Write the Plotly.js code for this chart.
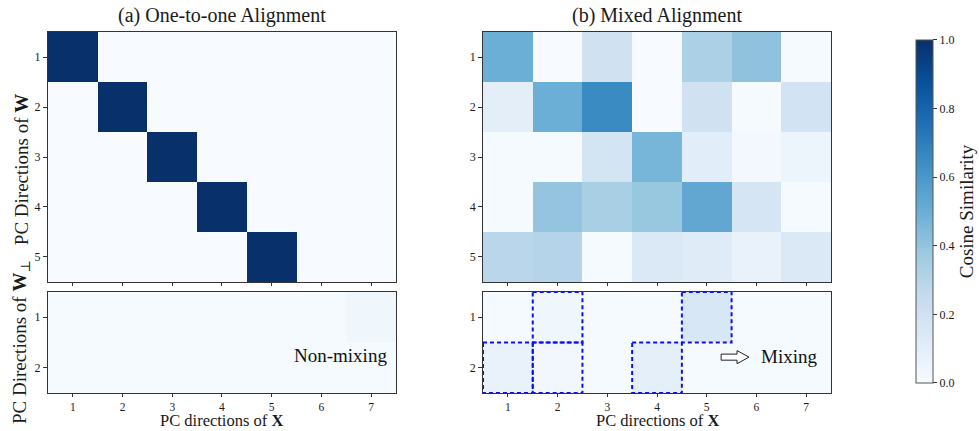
<!DOCTYPE html>
<html><head><meta charset="utf-8">
<script src="https://cdn.plot.ly/plotly-3.0.1.min.js"></script>
<style>html,body{margin:0;padding:0;background:#fff}#plot{width:979px;height:431px}</style>
</head><body><div id="plot"></div>
<script>
// ---- data ----
const xCats = [1, 2, 3, 4, 5, 6, 7];
const wRows = [1, 2, 3, 4, 5];
const wPerpRows = [1, 2];

const oneToOneW = [
  [1, 0, 0, 0, 0, 0, 0],
  [0, 1, 0, 0, 0, 0, 0],
  [0, 0, 1, 0, 0, 0, 0],
  [0, 0, 0, 1, 0, 0, 0],
  [0, 0, 0, 0, 1, 0, 0]
];
const oneToOnePerp = [
  [0.01, 0.01, 0.01, 0.01, 0.01, 0.01, 0.04],
  [0.01, 0.01, 0.01, 0.01, 0.01, 0.01, 0.01]
];
const mixedW = [
  [0.50, 0.00, 0.20, 0.00, 0.33, 0.41, 0.01],
  [0.10, 0.50, 0.65, 0.00, 0.20, 0.01, 0.19],
  [0.01, 0.01, 0.18, 0.47, 0.11, 0.02, 0.05],
  [0.01, 0.40, 0.34, 0.39, 0.53, 0.17, 0.01],
  [0.29, 0.30, 0.01, 0.14, 0.12, 0.07, 0.14]
];
const mixedPerp = [
  [0.01, 0.04, 0.01, 0.01, 0.16, 0.01, 0.01],
  [0.07, 0.03, 0.01, 0.09, 0.01, 0.01, 0.01]
];
// highlighted mixing cells [row, col] in the W-perp panel of (b)
const mixCells = [[1, 2], [1, 5], [2, 1], [2, 2], [2, 4]];

const panelTitles = ["(a) One-to-one Alignment", "(b) Mixed Alignment"];
const cbTicks = [0, 0.2, 0.4, 0.6, 0.8, 1.0];

// ---- styling ----
const blues = [
  [0.0, '#f7fbff'], [0.125, '#deebf7'], [0.25, '#c6dbef'], [0.375, '#9ecae1'],
  [0.5, '#6baed6'], [0.625, '#4292c6'], [0.75, '#2171b5'], [0.875, '#08519c'], [1.0, '#08306b']
];
const serif = 'Liberation Serif, DejaVu Serif, serif';
const frame = '#333333';
const txt = '#1a1a1a';

function hm(z, rows, xa, ya, show) {
  const t = {
    type: 'heatmap', z: z, x: xCats, y: rows, xaxis: xa, yaxis: ya,
    colorscale: blues, zmin: 0, zmax: 1, showscale: !!show, hoverinfo: 'skip'
  };
  if (show) {
    t.colorbar = {
      x: 1.1086, xanchor: 'left', xpad: 0, y: 0.5028, yanchor: 'middle', ypad: 0,
      len: 343, lenmode: 'pixels', thickness: 17, thicknessmode: 'pixels',
      outlinewidth: 1, outlinecolor: '#555',
      tickvals: cbTicks, ticktext: cbTicks.map(v => v.toFixed(1)),
      ticks: 'outside', ticklen: 4, tickcolor: frame,
      tickfont: {family: serif, size: 12, color: txt},
      title: {text: 'Cosine Similarity', side: 'right', font: {family: serif, size: 19, color: txt}}
    };
  }
  return t;
}

const data = [
  hm(oneToOneW, wRows, 'x', 'y', true),
  hm(mixedW, wRows, 'x2', 'y2', false),
  hm(oneToOnePerp, wPerpRows, 'x3', 'y3', false),
  hm(mixedPerp, wPerpRows, 'x4', 'y4', false)
];

function xax(dom, labels) {
  return {
    domain: dom, range: [0.5, 7.5], tickvals: xCats, showticklabels: labels,
    ticks: 'outside', ticklen: 3, tickcolor: frame, showgrid: false, zeroline: false,
    showline: true, mirror: true, linecolor: frame, linewidth: 1,
    tickfont: {family: serif, size: 11.5, color: txt}
  };
}
function yax(dom, rows, anchor) {
  return {
    domain: dom, range: [rows.length + 0.5, 0.5], tickvals: rows, anchor: anchor,
    ticks: 'outside', ticklen: 4, tickcolor: frame, showgrid: false, zeroline: false,
    showline: true, mirror: true, linecolor: frame, linewidth: 1,
    tickfont: {family: serif, size: 12, color: txt}
  };
}

const leftDom = [0, 0.4444], rightDom = [0.5556, 1.0];
const topDom = [0.3075, 1.0], botDom = [0, 0.2798];

const shapes = mixCells.map(([r, c]) => ({
  type: 'rect', xref: 'x4', yref: 'y4',
  x0: c - 0.5, x1: c + 0.5, y0: r - 0.5, y1: r + 0.5,
  line: {color: '#1010ee', width: 2, dash: '4px,3px'}, fillcolor: 'rgba(0,0,0,0)'
}));
// hollow arrow next to "Mixing"
shapes.push({
  type: 'path', xref: 'x4', yref: 'y4',
  path: 'M5.29,1.73 L5.61,1.73 L5.61,1.66 L5.85,1.79 L5.61,1.92 L5.61,1.85 L5.29,1.85 Z',
  line: {color: '#222', width: 1}, fillcolor: 'white'
});

function ann(o) {
  return Object.assign({xref: 'paper', yref: 'paper', xanchor: 'center', yanchor: 'middle', showarrow: false}, o);
}
const annotations = [
  ann({text: panelTitles[0], x: 0.2222, y: 1, yanchor: 'bottom', yshift: 3, font: {family: serif, size: 20, color: txt}}),
  ann({text: panelTitles[1], x: 0.7778, y: 1, yanchor: 'bottom', yshift: 3, font: {family: serif, size: 20, color: txt}}),
  ann({text: 'PC Directions of <b>W</b>', x: -0.0345, y: 0.62, textangle: -90, font: {family: serif, size: 19, color: txt}}),
  ann({text: 'PC Directions of <b>W</b><sub>⊥</sub>', x: -0.0345, y: 0.141, textangle: -90, font: {family: serif, size: 19, color: txt}}),
  ann({text: 'PC directions of <b>X</b>', x: 0.2222, y: -0.1053, yanchor: 'bottom', yshift: -1, font: {family: serif, size: 16.5, color: txt}}),
  ann({text: 'PC directions of <b>X</b>', x: 0.7778, y: -0.1053, yanchor: 'bottom', yshift: -1, font: {family: serif, size: 16.5, color: txt}}),
  ann({text: 'Non-mixing', xref: 'x3', yref: 'y3', x: 7.36, y: 1.76, xanchor: 'right', font: {family: serif, size: 19, color: '#111'}}),
  ann({text: 'Mixing', xref: 'x4', yref: 'y4', x: 6.05, y: 1.77, xanchor: 'left', font: {family: serif, size: 19, color: '#111'}})
];

const layout = {
  width: 979, height: 431,
  margin: {l: 48, r: 148, t: 32, b: 38, autoexpand: false},
  paper_bgcolor: '#ffffff', plot_bgcolor: '#ffffff',
  showlegend: false,
  xaxis: Object.assign(xax(leftDom, false), {anchor: 'y'}),
  yaxis: yax(topDom, wRows, 'x'),
  xaxis2: Object.assign(xax(rightDom, false), {anchor: 'y2'}),
  yaxis2: yax(topDom, wRows, 'x2'),
  xaxis3: Object.assign(xax(leftDom, true), {anchor: 'y3'}),
  yaxis3: yax(botDom, wPerpRows, 'x3'),
  xaxis4: Object.assign(xax(rightDom, true), {anchor: 'y4'}),
  yaxis4: yax(botDom, wPerpRows, 'x4'),
  shapes: shapes,
  annotations: annotations
};

Plotly.newPlot('plot', data, layout, {displayModeBar: false, staticPlot: true});
</script>
</body></html>
